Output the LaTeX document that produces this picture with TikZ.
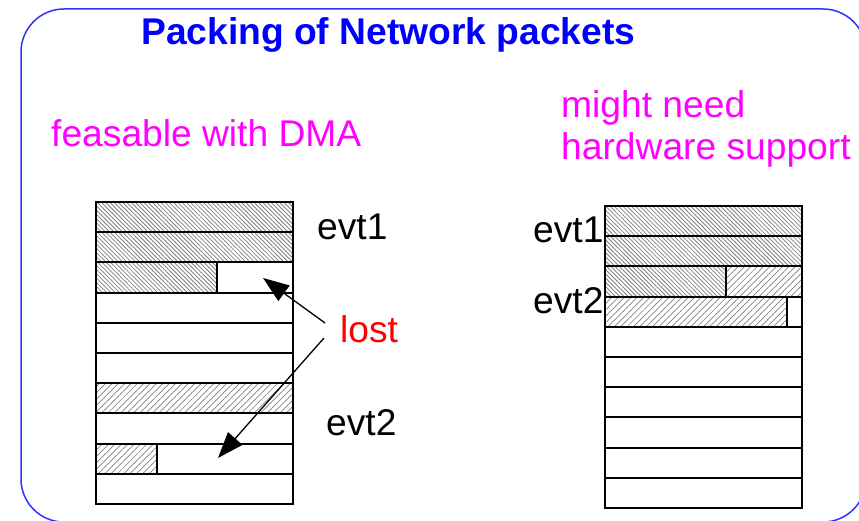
\documentclass[tikz,border=0pt]{standalone}
\usepackage{fontspec}
\setmainfont{Liberation Sans}
\usetikzlibrary{patterns.meta,arrows.meta}
\definecolor{framecol}{RGB}{50,50,255}
\definecolor{titlecol}{RGB}{0,0,255}
\definecolor{magcol}{RGB}{255,0,255}
\definecolor{lostcol}{RGB}{255,0,0}
\tikzset{
  cellline/.style={draw=black,line width=2pt},
  hatchA/.style={pattern={Lines[angle=-45,distance=3pt,line width=0.8pt]},pattern color=gray},
  hatchB/.style={pattern={Lines[angle=45,distance=4.5pt,line width=0.7pt]},pattern color=gray},
  lbl/.style={anchor=base west,inner sep=0pt,font=\fontsize{37.2}{40}\selectfont},
  lostarrow/.style={line width=1.3pt,-{Triangle[length=26pt,width=19pt]}},
}
\begin{document}
\begin{tikzpicture}[x=1pt,y=-1pt]
\useasboundingbox (0,0) rectangle (859,521);
\begin{scope}
\clip (0,0) rectangle (859,521);
\draw[framecol,line width=1.5pt,rounded corners=43pt] (21,9) rectangle (866,522);
\end{scope}
% titles
\node[lbl,font=\fontsize{37.2}{40}\selectfont\bfseries,text=titlecol] (title) at (141,45) {Packing of Network packets};
\node[lbl,text=magcol] (dma) at (51,147) {feasable with DMA};
\node[lbl,text=magcol] (might) at (561,118) {might need};
\node[lbl,text=magcol] (hw) at (561,160) {hardware support};
% left table hatches
\def\rh{30.2}
\fill[hatchA] (96,202) rectangle (293,202+2*\rh);
\fill[hatchA] (96,202+2*\rh) rectangle (217,202+3*\rh);
\fill[hatchB] (96,202+6*\rh) rectangle (293,202+7*\rh);
\fill[hatchB] (96,202+8*\rh) rectangle (157,202+9*\rh);
\foreach \i in {0,...,9}{
  \draw[cellline] (96,202+\i*\rh) rectangle (293,202+\i*\rh+\rh);
}
\draw[cellline] (217,202+2*\rh) -- (217,202+3*\rh);
\draw[cellline] (157,202+8*\rh) -- (157,202+9*\rh);
% right table hatches
\fill[hatchA] (605,206) rectangle (802,206+2*\rh);
\fill[hatchA] (605,206+2*\rh) rectangle (726,206+3*\rh);
\fill[hatchB] (726,206+2*\rh) rectangle (802,206+3*\rh);
\fill[hatchB] (605,206+3*\rh) rectangle (787,206+4*\rh);
\foreach \i in {0,...,9}{
  \draw[cellline] (605,206+\i*\rh) rectangle (802,206+\i*\rh+\rh);
}
\draw[cellline] (726,206+2*\rh) -- (726,206+3*\rh);
\draw[cellline] (787,206+3*\rh) -- (787,206+4*\rh);
% labels
\node[lbl] (evtLa) at (317,240) {evt1};
\node[lbl] (evtLb) at (326,435) {evt2};
\node[lbl] (evtRa) at (533,243) {evt1};
\node[lbl] (evtRb) at (533,313) {evt2};
\node[lbl,text=lostcol] (lost) at (340,342) {lost};
% arrows
\coordinate (srcA) at (325,323);
\coordinate (tipA) at (263,278);
\coordinate (srcB) at (324,338);
\coordinate (tipB) at (218,458);
\draw[lostarrow] (srcA) -- (tipA);
\draw[lostarrow] (srcB) -- (tipB);
\end{tikzpicture}
\end{document}
